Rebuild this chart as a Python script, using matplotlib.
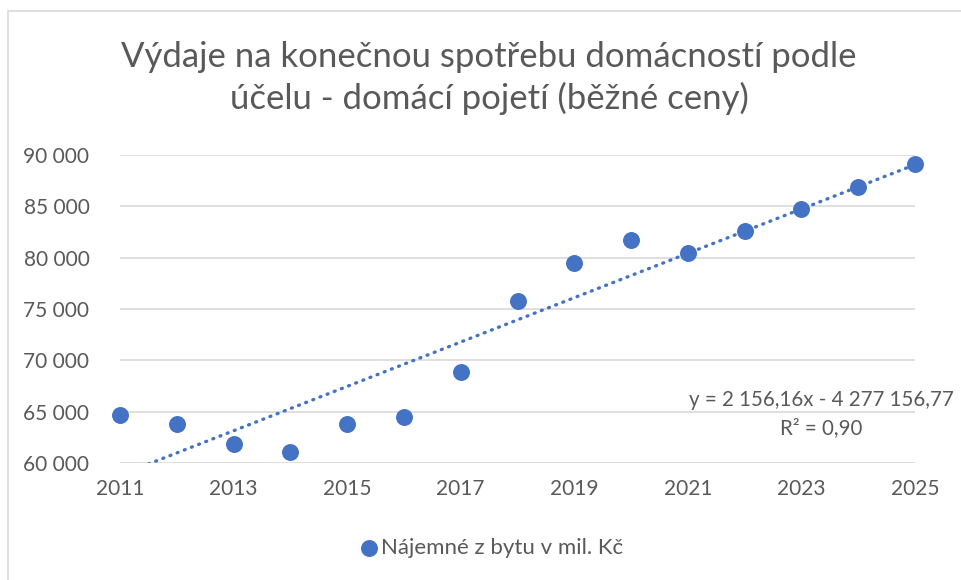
import matplotlib
matplotlib.use("Agg")
import matplotlib.pyplot as plt
import numpy as np
from matplotlib.patches import Rectangle

plt.rcParams["font.family"] = ["Lato", "DejaVu Sans"]

# ── Data ──────────────────────────────────────────────────────────────────────
roky = [2011, 2012, 2013, 2014, 2015, 2016, 2017, 2018,
        2019, 2020, 2021, 2022, 2023, 2024, 2025]
najemne = [64700, 63800, 61900, 61050, 63800, 64500, 68850, 75800,
           79450, 81750, 80400, 82550, 84700, 86850, 89050]

titulek = "Výdaje na konečnou spotřebu domácností podle\núčelu - domácí pojetí (běžné ceny)"
nazev_rady = "Nájemné z bytu v mil. Kč"
rovnice = "y = 2 156,16x - 4 277 156,77\nR² = 0,90"
x_ticks = [2011, 2013, 2015, 2017, 2019, 2021, 2023, 2025]
y_ticks = [60000, 65000, 70000, 75000, 80000, 85000, 90000]

MODRA = "#4472C4"
SEDA_TEXT = "#595959"
SEDA_MRIZ = "#D9D9D9"

fig = plt.figure(figsize=(9.62, 5.80), dpi=100)
ax = fig.add_axes([120 / 962, 116.7 / 580, 795 / 962, 308.6 / 580])

# rámeček grafu (Excel)
fig.patches.append(Rectangle((8 / 962, -0.1), 1.2, (580 - 11) / 580 + 0.1,
                             transform=fig.transFigure, fill=False,
                             edgecolor=SEDA_MRIZ, linewidth=1.2))

x = np.array(roky, dtype=float)
y = np.array(najemne, dtype=float)

# lineární trend
k, q = np.polyfit(x, y, 1)
xt = np.linspace(x.min(), x.max(), 200)
ax.plot(xt, k * xt + q, color=MODRA, linewidth=2.4,
        linestyle=(0, (0.3, 2.0)), dash_capstyle="round", zorder=2)

ax.scatter(x, y, s=125, color=MODRA, zorder=3, label=nazev_rady,
           clip_on=False)

ax.set_xlim(2011, 2025)
ax.set_ylim(60000, 90000)
ax.set_xticks(x_ticks)
ax.set_yticks(y_ticks)
ax.set_yticklabels([f"{v:,}".replace(",", " ") for v in y_ticks])
ax.tick_params(length=0, labelsize=15, labelcolor=SEDA_TEXT)
ax.tick_params(axis="x", pad=11)
ax.tick_params(axis="y", pad=22)
ax.grid(axis="y", color=SEDA_MRIZ, linewidth=1.2)
ax.set_axisbelow(True)
for s in ax.spines.values():
    s.set_visible(False)

fig.text(489 / 962, 1 - 78 / 580, titulek, ha="center", va="center",
         fontsize=25, color=SEDA_TEXT, linespacing=1.35)

fig.text(821 / 962, 1 - 414 / 580, rovnice, ha="center", va="center",
         fontsize=14.8, color=SEDA_TEXT, linespacing=1.55)

fig.legend(loc="center", bbox_to_anchor=(492 / 962, 1 - 548 / 580),
           frameon=False, fontsize=16, labelcolor=SEDA_TEXT,
           handlelength=0.8, handletextpad=0.15, markerscale=1.0)

fig.savefig("out.png", dpi=100)
